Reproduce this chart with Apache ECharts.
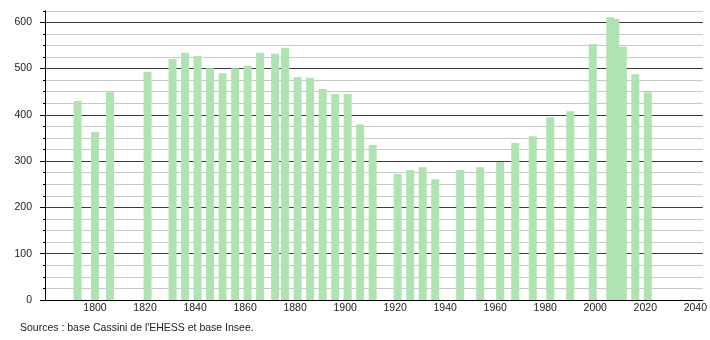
<!DOCTYPE html>
<html><head><meta charset="utf-8">
<script src="https://cdn.jsdelivr.net/npm/echarts@6/dist/echarts.min.js"></script>
<style>html,body{margin:0;padding:0;background:#fff}#c{width:710px;height:340px}</style>
</head><body><div id="c"></div>
<script>
var years = [1793,1800,1806,1821,1831,1836,1841,1846,1851,1856,1861,1866,1872,1876,1881,1886,1891,1896,1901,1906,1911,1921,1926,1931,1936,1946,1954,1962,1968,1975,1982,1990,1999,2006,2008,2011,2016,2021];
var population = [430,363,449,493,521,534,527,501,490,501,506,534,532,545,482,480,456,445,445,380,335,272,281,287,261,281,287,298,339,354,395,408,553,611,607,547,488,449];
var yTicks = [0,100,200,300,400,500,600];
var xLabelYears = [1800,1820,1840,1860,1880,1900,1920,1940,1960,1980,2000,2020,2040];
var sourceText = "Sources : base Cassini de l'EHESS et base Insee.";

var font = 'Liberation Sans, Arial, sans-serif';
var chart = echarts.init(document.getElementById('c'), null, {renderer:'canvas'});
var data = years.map(function(y,i){return [y, population[i]];});
chart.setOption({
  animation:false,
  grid:{left:45, right:7, top:10.75, bottom:40},
  xAxis:{type:'value', min:1780, max:2043, interval:20,
    axisLine:{show:true, lineStyle:{color:'#000', width:1}},
    axisTick:{show:false}, splitLine:{show:false},
    axisLabel:{color:'#222', fontFamily:font, fontSize:10.5, margin:3,
      customValues: xLabelYears,
      formatter:function(v){return xLabelYears.indexOf(v)>=0 ? String(v) : '';}}
  },
  yAxis:[
    {type:'value', min:0, max:625, interval:25, position:'left',
      axisLine:{show:false}, axisLabel:{show:false},
      axisTick:{show:true, length:2, lineStyle:{color:'#000'}},
      splitLine:{show:true, lineStyle:{color:'#c8c8c8', width:1}}
    },
    {type:'value', min:0, max:625, interval:100, position:'left',
      axisLine:{show:true, onZero:false, lineStyle:{color:'#000', width:1}},
      axisTick:{show:true, length:5, customValues: yTicks, lineStyle:{color:'#000'}},
      axisLabel:{color:'#222', fontFamily:font, fontSize:10.5, margin:13,
        customValues: yTicks,
        formatter:function(v){return yTicks.indexOf(v)>=0 ? String(v) : '';}},
      splitLine:{show:true, lineStyle:{color:'#3a3a3a', width:1}}
    }
  ],
  series:[{type:'bar', data:data, yAxisIndex:0, barWidth:8,
    itemStyle:{color:'#afe3b1'}, z:5}],
  graphic:[{type:'text', left:20, top:323,
    style:{text:sourceText, fill:'#222', font:'10.5px '+font}}]
});
</script></body></html>
